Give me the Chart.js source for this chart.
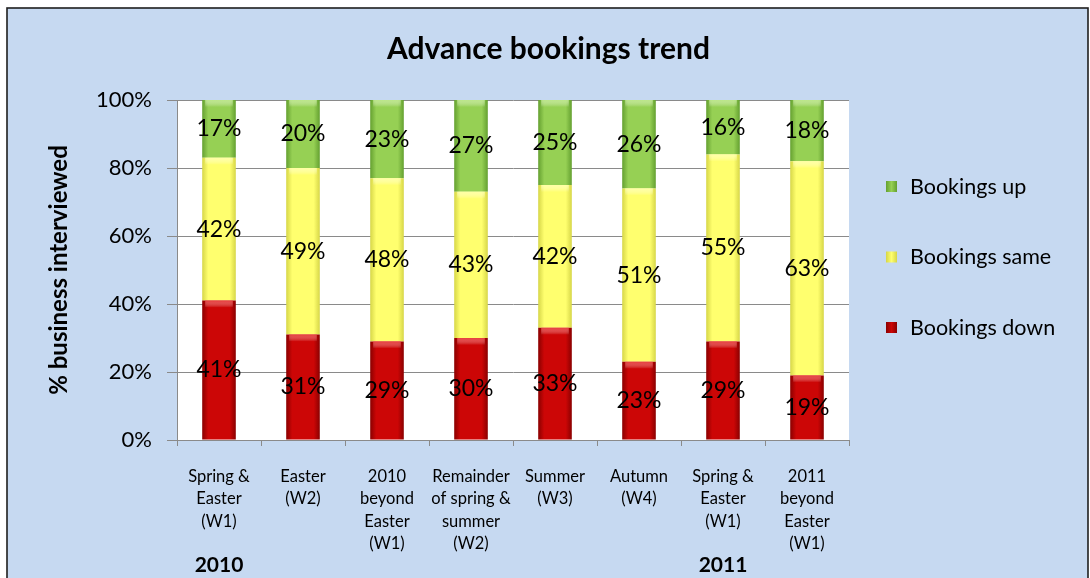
<!DOCTYPE html>
<html>
<head>
<meta charset="utf-8">
<script src="https://cdn.jsdelivr.net/npm/chart.js@4/dist/chart.umd.min.js"></script>
<style>
  html, body { margin: 0; padding: 0; background: #fff; }
  #wrap { position: relative; width: 1090px; height: 578px; }
</style>
</head>
<body>
<div id="wrap"><canvas id="bookingsChart" width="1090" height="578"></canvas></div>
<script>
// Advance bookings trend - stacked column chart

const categories = [
    ['Spring &', 'Easter', '(W1)'],
    ['Easter', '(W2)'],
    ['2010', 'beyond', 'Easter', '(W1)'],
    ['Remainder', 'of spring &', 'summer', '(W2)'],
    ['Summer', '(W3)'],
    ['Autumn', '(W4)'],
    ['Spring &', 'Easter', '(W1)'],
    ['2011', 'beyond', 'Easter', '(W1)']
];
const yearLabels = ['2010', '', '', '', '', '', '2011', ''];

const bookingsDown = [41, 31, 29, 30, 33, 23, 29, 19];
const bookingsSame = [42, 49, 48, 43, 42, 51, 55, 63];
const bookingsUp = [17, 20, 23, 27, 25, 26, 16, 18];

const yTicks = [0, 20, 40, 60, 80, 100];

const FONT = 'Lato, "Open Sans", sans-serif';

// colour stops: edge, centre, top highlight
const PALETTE = {
    down: ['#8a0000', '#cc0606', '#f04a4a'],
    same: ['#d6d648', '#ffff6e', '#ffffb0'],
    up: ['#64a030', '#96d054', '#c4ec96']
};

function barGradient(ctx, key) {
    const chart = ctx.chart;
    const area = chart.chartArea;
    const cols = PALETTE[key];
    if (!area) return cols[1];
    const x = chart.scales.x.getPixelForValue(ctx.dataIndex);
    const half = (area.right - area.left) / categories.length * 0.4 / 2;
    const g = chart.ctx.createLinearGradient(x - half, 0, x + half, 0);
    g.addColorStop(0, cols[0]);
    g.addColorStop(0.18, cols[1]);
    g.addColorStop(0.82, cols[1]);
    g.addColorStop(1, cols[0]);
    return g;
}

const backgroundPlugin = {
    id: 'chartBackground',
    beforeDraw(chart) {
        const c = chart.ctx;
        const a = chart.chartArea;
        c.save();
        c.fillStyle = '#ffffff';
        c.fillRect(0, 0, chart.width, chart.height);
        c.fillStyle = '#c6d9f1';
        c.fillRect(7, 8, 1081, chart.height);
        c.strokeStyle = '#1e1e1e';
        c.lineWidth = 1.6;
        c.strokeRect(7, 8, 1081, chart.height + 10);
        c.fillStyle = '#ffffff';
        c.fillRect(a.left, a.top, a.right - a.left, a.bottom - a.top);
        c.restore();
    }
};

const labelsPlugin = {
    id: 'segmentLabels',
    afterDatasetsDraw(chart) {
        const c = chart.ctx;
        c.save();
        // soft highlight along the top of each segment
        chart.data.datasets.forEach((ds, i) => {
            const cols = PALETTE[ds.key];
            chart.getDatasetMeta(i).data.forEach(bar => {
                const w = bar.width;
                const g = c.createLinearGradient(0, bar.y, 0, bar.y + 7);
                g.addColorStop(0, cols[2]);
                g.addColorStop(1, 'rgba(255,255,255,0)');
                c.globalAlpha = 0.8;
                c.fillStyle = g;
                c.fillRect(bar.x - w / 2 + 3, bar.y, w - 6, 7);
            });
        });
        c.globalAlpha = 1;
        c.font = '23px ' + FONT;
        c.fillStyle = '#000';
        c.textAlign = 'center';
        c.textBaseline = 'middle';
        chart.data.datasets.forEach((ds, i) => {
            chart.getDatasetMeta(i).data.forEach((bar, j) => {
                c.fillText(ds.data[j] + '%', bar.x, (bar.y + bar.base) / 2);
            });
        });
        c.restore();
    },
    afterDraw(chart) {
        const c = chart.ctx;
        const a = chart.chartArea;
        const xs = chart.scales.x;
        c.save();
        // year labels under the category axis
        c.font = 'bold 21px ' + FONT;
        c.fillStyle = '#000';
        c.textAlign = 'center';
        c.textBaseline = 'middle';
        yearLabels.forEach((y, i) => {
            if (y) c.fillText(y, xs.getPixelForValue(i), 565);
        });

        // legend, top series first
        c.font = '21.5px ' + FONT;
        c.textAlign = 'left';
        const items = chart.data.datasets.slice().reverse();
        items.forEach((ds, i) => {
            const cy = a.top + 87 + i * 70.5;
            const bx = a.right + 37;
            const cols = PALETTE[ds.key];
            const g = c.createLinearGradient(bx, 0, bx + 11, 0);
            g.addColorStop(0, cols[0]);
            g.addColorStop(0.5, cols[1]);
            g.addColorStop(1, cols[0]);
            c.fillStyle = g;
            c.fillRect(bx, cy - 6, 11, 11);
            c.fillStyle = '#000';
            c.fillText(ds.label, bx + 24, cy);
        });
        c.restore();
    }
};

new Chart(document.getElementById('bookingsChart'), {
    type: 'bar',
    data: {
        labels: categories,
        datasets: [
            { key: 'down', label: 'Bookings down', data: bookingsDown, backgroundColor: c => barGradient(c, 'down') },
            { key: 'same', label: 'Bookings same', data: bookingsSame, backgroundColor: c => barGradient(c, 'same') },
            { key: 'up', label: 'Bookings up', data: bookingsUp, backgroundColor: c => barGradient(c, 'up') }
        ]
    },
    options: {
        responsive: false,
        animation: false,
        devicePixelRatio: 1,
        layout: { padding: { left: 7, right: 0, top: 0, bottom: 0 } },
        datasets: {
            bar: { categoryPercentage: 1, barPercentage: 0.4, borderWidth: 0 }
        },
        plugins: {
            legend: { display: false },
            tooltip: { enabled: false },
            title: {
                display: true,
                text: 'Advance bookings trend',
                color: '#000',
                font: { family: FONT, size: 30, weight: 'bold', lineHeight: 1.2 },
                padding: { top: 31, bottom: 33 }
            }
        },
        scales: {
            x: {
                stacked: true,
                grid: { display: true, drawOnChartArea: false, drawTicks: true, tickLength: 6, color: '#8a8a8a' },
                border: { display: true, color: '#8a8a8a' },
                ticks: {
                    color: '#000',
                    font: { family: FONT, size: 16.5, lineHeight: 1.37 },
                    padding: 19,
                    maxRotation: 0,
                    autoSkip: false
                },
                afterFit: s => { s.height = 138; }
            },
            y: {
                stacked: true,
                min: 0,
                max: 100,
                afterBuildTicks: s => { s.ticks = yTicks.map(v => ({ value: v })); },
                grid: { color: '#8a8a8a', tickLength: 10 },
                border: { display: true, color: '#8a8a8a' },
                ticks: {
                    color: '#000',
                    font: { family: FONT, size: 22 },
                    padding: 15,
                    callback: v => v + '%'
                },
                title: {
                    display: true,
                    text: '% business interviewed',
                    color: '#000',
                    font: { family: FONT, size: 24, weight: 'bold', lineHeight: 1.2 },
                    padding: { top: 38, bottom: 0 }
                },
                afterFit: s => { s.width = 170; }
            },
            y2: {
                position: 'right',
                display: true,
                grid: { display: false },
                border: { display: false },
                ticks: { display: false },
                afterFit: s => { s.width = 241; }
            }
        }
    },
    plugins: [backgroundPlugin, labelsPlugin]
});
</script>
</body>
</html>
